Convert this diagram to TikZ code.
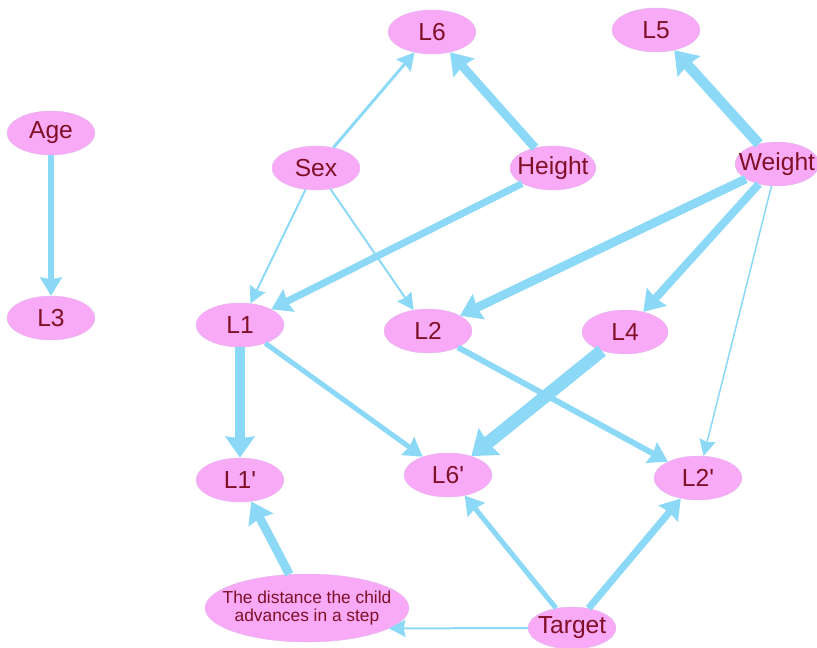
\documentclass[tikz,border=0pt]{standalone}
\usepackage{fontspec}
\setmainfont{Liberation Sans}
\usepackage{xcolor}
\usepackage{tikz}
\usetikzlibrary{arrows.meta,shapes.geometric}

\definecolor{nodepink}{HTML}{F8AAF6}
\definecolor{nodeline}{HTML}{E4B8EE}
\definecolor{labelred}{HTML}{800F28}
\definecolor{linkblue}{HTML}{8CD9F7}

\begin{document}
\begin{tikzpicture}[
x=0.03cm, y=-0.03cm,
var/.style={
    ellipse,
    draw=nodeline,
    fill=nodepink,
    text=labelred,
    inner xsep=-24pt,
    inner ysep=-10pt,
    minimum width=2.64cm,
    minimum height=1.32cm,
    font=\fontsize{21}{22}\selectfont
},
link/.style={draw=linkblue, -{Stealth[length=13pt 0.6, width=12pt 1.5, inset=1.5pt]}}
]
\useasboundingbox (0,0) rectangle (817,647);

\node[var] (age) at (51,133) {Age};
\node[var] (lthree) at (51,318) {L3};
\node[var] (lsix) at (432,32) {L6};
\node[var] (lfive) at (656,30) {L5};
\node[var] (sex) at (316,168) {Sex};
\node[var, minimum width=2.58cm] (height) at (553,168) {Height};
\node[var, minimum width=2.52cm] (weight) at (777,164) {Weight};
\node[var] (lone) at (240,325) {L1};
\node[var] (ltwo) at (428,331) {L2};
\node[var, minimum width=2.58cm] (lfour) at (625,332) {L4};
\node[var] (lonep) at (240,480) {L1\textquotesingle};
\node[var] (lsixp) at (448,475) {L6\textquotesingle};
\node[var] (ltwop) at (698,478) {L2\textquotesingle};
\node[var, align=center, minimum width=6.12cm, minimum height=2.04cm,
      font=\fontsize{14.8}{15}\selectfont] (dist) at (307,608) {
The distance the child\\
advances in a step
};
\node[var, minimum height=1.26cm] (target) at (572,628) {Target};

% top layer
\draw[link, line width=4.3pt] (age) -- (lthree);
\draw[link, line width=2.5pt] (sex) -- (lsix);
\draw[link, line width=7.5pt] (height) -- (lsix);
\draw[link, line width=9pt] (weight) -- (lfive);

% into L1, L2, L4, L2'
\draw[link, line width=1.7pt] (sex) -- (lone);
\draw[link, line width=1.7pt] (sex) -- (ltwo);
\draw[link, line width=6pt] (height) -- (lone);
\draw[link, line width=7.5pt] (weight) -- (ltwo);
\draw[link, line width=6.8pt] (weight) -- (lfour);
\draw[link, line width=1.3pt] (weight) -- (ltwop);

% lower layer
\draw[link, line width=8.5pt] (lone) -- (lonep);
\draw[link, line width=4.3pt] (lone) -- (lsixp);
\draw[link, line width=11pt] (lfour) -- (lsixp);
\draw[link, line width=5pt] (ltwo) -- (ltwop);
\draw[link, line width=7.5pt] (dist) -- (lonep);
\draw[link, line width=4.3pt] (target) -- (lsixp);
\draw[link, line width=6pt] (target) -- (ltwop);
\draw[link, line width=1.7pt] (target.west) -- (dist.-14);

\end{tikzpicture}
\end{document}
